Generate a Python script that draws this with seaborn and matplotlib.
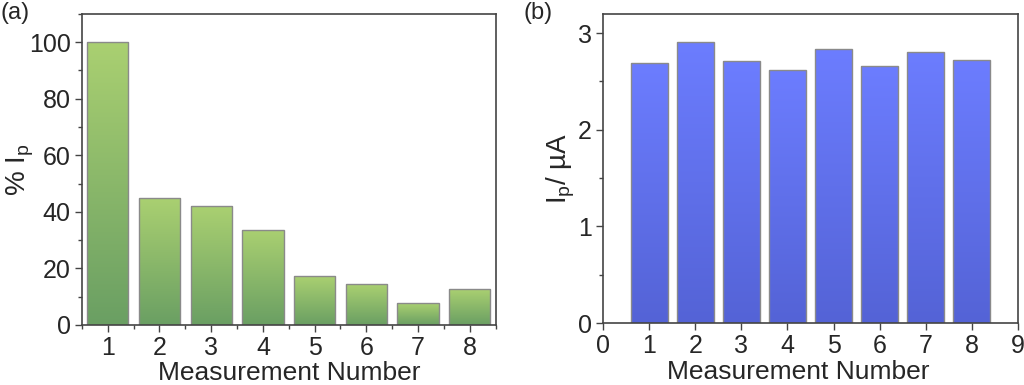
import numpy as np
import pandas as pd
import matplotlib
matplotlib.use("Agg")
import matplotlib.pyplot as plt
from matplotlib.ticker import MultipleLocator
from matplotlib.colors import LinearSegmentedColormap
import seaborn as sns

# --- data ---
measurement = [1, 2, 3, 4, 5, 6, 7, 8]
percent_ip = [100, 44.8, 41.9, 33.7, 17.2, 14.4, 7.6, 12.6]
ip_uA = [2.69, 2.91, 2.71, 2.62, 2.84, 2.66, 2.81, 2.72]

sns.set_theme(style="ticks")
plt.rcParams['font.family'] = ['Liberation Sans', 'DejaVu Sans']
plt.rcParams['mathtext.default'] = 'regular'

green_cmap = LinearSegmentedColormap.from_list("g", ["#6a9f63", "#aad071"])
blue_cmap = LinearSegmentedColormap.from_list("b", ["#5463d6", "#6c7dff"])


def gradient_bars(ax, cmap):
    """Replace flat bar fill with a vertical gradient clipped to each bar."""
    grad = np.linspace(0, 1, 256).reshape(-1, 1)
    for p in list(ax.patches):
        x, y = p.get_x(), p.get_y()
        w, h = p.get_width(), p.get_height()
        im = ax.imshow(grad, cmap=cmap, origin="lower", aspect="auto",
                       extent=[x, x + w, y, y + h], zorder=1)
        im.set_clip_path(p)
        p.set_facecolor("none")
        p.set_edgecolor("#8a8a8a")
        p.set_linewidth(1.0)
        p.set_zorder(2)


def style_axes(ax):
    for s in ax.spines.values():
        s.set_color("#444444")
        s.set_linewidth(1.2)
    ax.tick_params(axis="both", which="major", direction="out", length=5,
                   width=1, color="#444444", labelsize=18, pad=3)
    ax.tick_params(axis="both", which="minor", direction="out", length=3,
                   width=1, color="#444444")


fig = plt.figure(figsize=(10.24, 3.85), dpi=100)
ax1 = fig.add_axes([0.080, 0.156, 0.404, 0.808])
ax2 = fig.add_axes([0.589, 0.161, 0.405, 0.803])

# panel (a)
df_a = pd.DataFrame({"Measurement": measurement, "pct": percent_ip})
sns.barplot(data=df_a, x="Measurement", y="pct", native_scale=True,
            width=0.8, color="#8fbf6a", ax=ax1)
gradient_bars(ax1, green_cmap)
ax1.set_xlim(0.5, 8.5)
ax1.set_ylim(0, 110)
ax1.xaxis.set_major_locator(MultipleLocator(1))
ax1.xaxis.set_minor_locator(MultipleLocator(0.5))
ax1.yaxis.set_major_locator(MultipleLocator(20))
ax1.yaxis.set_minor_locator(MultipleLocator(10))
ax1.set_xlabel("Measurement Number", fontsize=19, va="top")
ax1.xaxis.set_label_coords(0.5, -0.115)
ax1.set_ylabel("% $I_p$", fontsize=20)
ax1.yaxis.set_label_coords(-0.11, 0.5)
style_axes(ax1)

# panel (b)
df_b = pd.DataFrame({"Measurement": measurement, "ip": ip_uA})
sns.barplot(data=df_b, x="Measurement", y="ip", native_scale=True,
            width=0.8, color="#6070f0", ax=ax2)
gradient_bars(ax2, blue_cmap)
ax2.set_xlim(0, 9)
ax2.set_ylim(0, 3.2)
ax2.xaxis.set_major_locator(MultipleLocator(1))
ax2.yaxis.set_major_locator(MultipleLocator(1))
ax2.yaxis.set_minor_locator(MultipleLocator(0.5))
ax2.set_xlabel("Measurement Number", fontsize=19, va="top")
ax2.xaxis.set_label_coords(0.47, -0.12)
ax2.set_ylabel("$I_p$/ µA", fontsize=20)
ax2.yaxis.set_label_coords(-0.063, 0.5)
style_axes(ax2)

fig.text(0.0, 0.995, "(a)", fontsize=17, va="top", ha="left")
fig.text(0.511, 0.995, "(b)", fontsize=17, va="top", ha="left")

fig.savefig("out.png", dpi=100)
